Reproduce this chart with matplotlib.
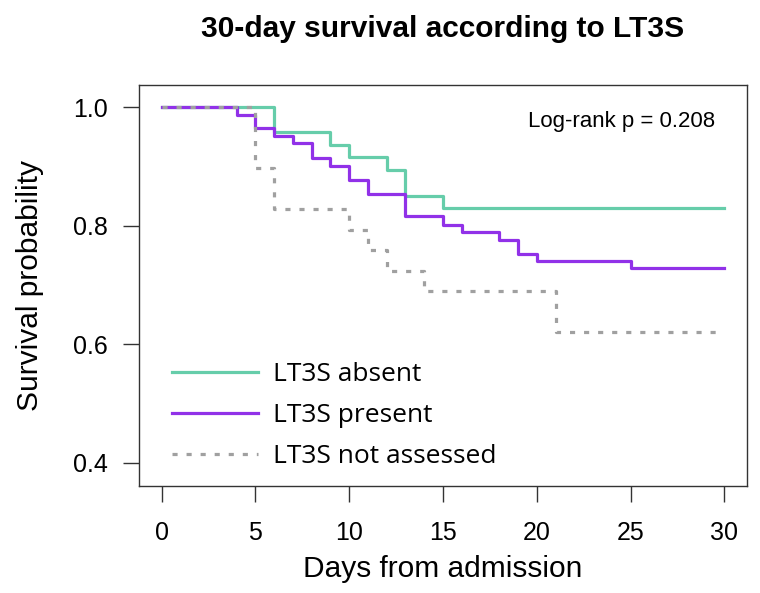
import matplotlib
matplotlib.use("Agg")
import matplotlib.pyplot as plt

# Data: Kaplan-Meier step curves (time of step, survival after step)
absent_t = [0, 6, 9, 10, 12, 13, 15, 30]
absent_s = [1.0, 0.958, 0.937, 0.916, 0.895, 0.851, 0.830, 0.830]

present_t = [0, 4, 5, 6, 7, 8, 9, 10, 11, 13, 15, 16, 18, 19, 20, 25, 30]
present_s = [1.0, 0.988, 0.966, 0.951, 0.940, 0.914, 0.901, 0.878, 0.853,
             0.816, 0.802, 0.789, 0.776, 0.753, 0.741, 0.728, 0.728]

notass_t = [0, 5, 6, 10, 11, 12, 14, 21, 30]
notass_s = [1.0, 0.897, 0.828, 0.793, 0.759, 0.724, 0.690, 0.621, 0.621]

labels = ["LT3S absent", "LT3S present", "LT3S not assessed"]
xticks = [0, 5, 10, 15, 20, 25, 30]
yticks = [0.4, 0.6, 0.8, 1.0]
pvalue_text = "Log-rank p = 0.208"

plt.rcParams['font.family'] = ['Liberation Sans', 'DejaVu Sans']

fig = plt.figure(figsize=(7.6, 5.93), dpi=100)
ax = fig.add_axes([139/760, 1-486/593, (747-139)/760, (486-85)/593])

ax.step(absent_t, absent_s, where='post', color='#66CDAA', lw=2.3, label=labels[0])
ax.step(present_t, present_s, where='post', color='#9131E8', lw=2.3, label=labels[1])
ax.step(notass_t, notass_s, where='post', color='#A0A0A0', lw=2.3,
        linestyle=(0, (1.6, 2.8)), label=labels[2])

ax.set_xlim(-1.2, 31.2)
ax.set_ylim(0.3605, 1.038)
ax.set_xticks(xticks)
ax.set_xticklabels([str(v) for v in xticks])
ax.set_yticks(yticks)
ax.set_yticklabels([f"{v:.1f}" for v in yticks])
ax.tick_params(axis='both', direction='out', length=11.5, width=1.0,
               labelsize=18, color='#333333')
ax.tick_params(axis='x', pad=14)
ax.tick_params(axis='y', pad=11)
for s in ax.spines.values():
    s.set_linewidth(1.0)
    s.set_color('#333333')

ax.set_xlabel("Days from admission", fontsize=21.5, labelpad=7)
ax.set_ylabel("Survival probability", fontsize=21.5, labelpad=21)
ax.set_title("30-day survival according to LT3S", fontsize=21.5, fontweight='bold',
             pad=34.5)

ax.text(0.947, 0.910, pvalue_text, transform=ax.transAxes, ha='right', va='center',
        fontsize=16)

leg = ax.legend(loc='lower left', bbox_to_anchor=(0.015, -0.018), frameon=False,
                prop={'family': ['Open Sans', 'DejaVu Sans'], 'size': 19},
                handlelength=3.26, handletextpad=0.57, labelspacing=0.61)

fig.savefig("out.png", dpi=100)
